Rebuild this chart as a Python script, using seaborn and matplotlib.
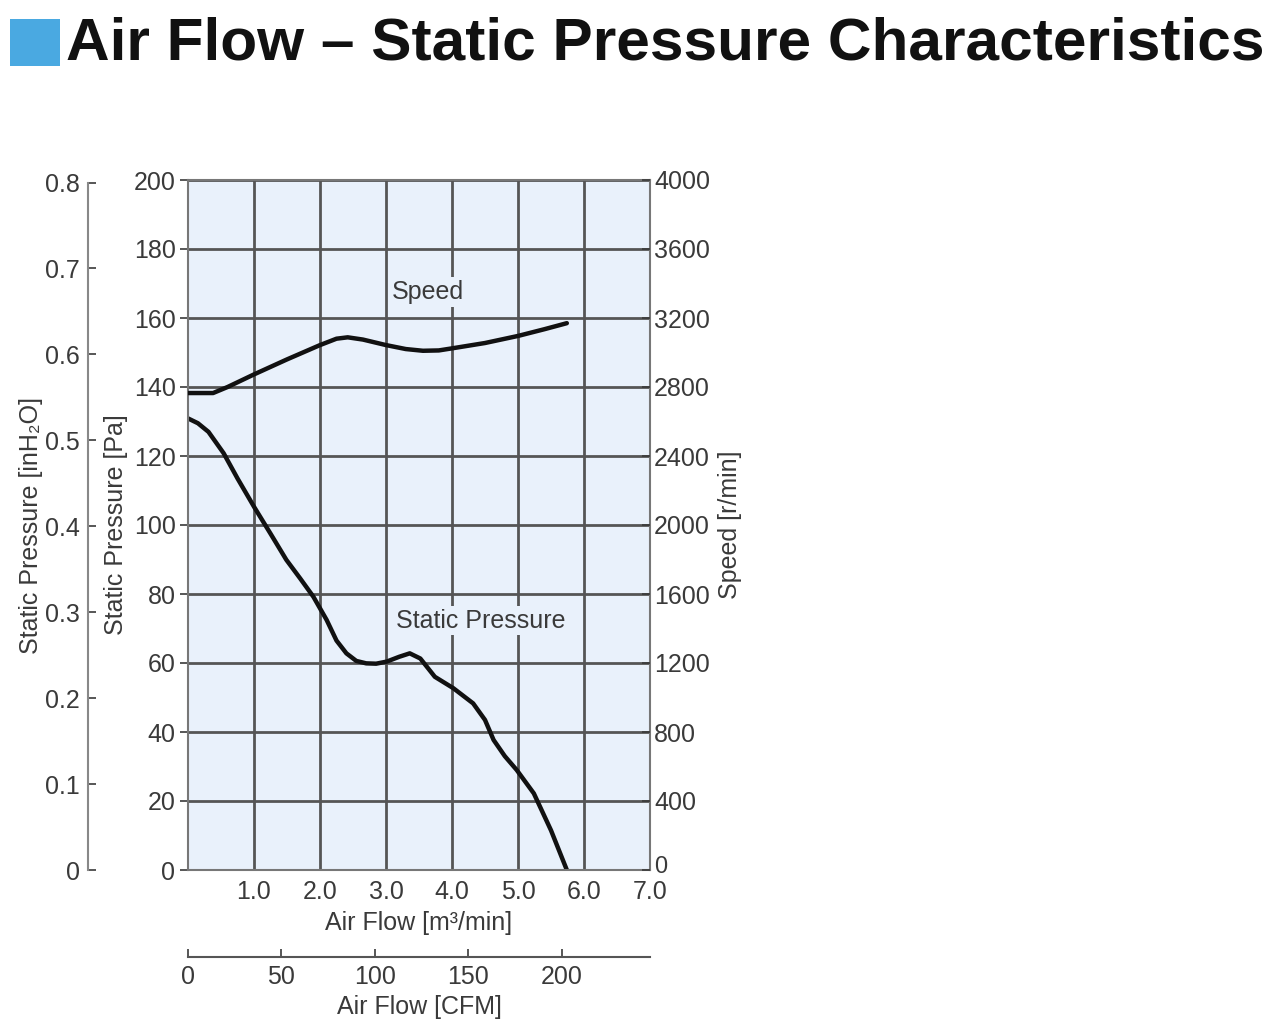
import matplotlib
matplotlib.use("Agg")
import matplotlib.pyplot as plt
import matplotlib.patches as mpatches
import matplotlib.transforms as mtransforms
import seaborn as sns
import pandas as pd
import numpy as np

# ---- data ----
sp_flow = [0.0, 0.15, 0.31, 0.54, 0.75, 1.0, 1.25, 1.49, 1.70, 1.90, 2.10, 2.25, 2.40, 2.55, 2.70, 2.85, 3.01, 3.20,
           3.36, 3.52, 3.74, 4.02, 4.32, 4.50, 4.63, 4.80, 4.98, 5.24, 5.50, 5.74]
sp_pa = [130.9, 129.5, 127.0, 120.8, 113.5, 105.3, 97.5, 89.9, 84.5, 79.2, 72.5, 66.5, 62.8, 60.6, 59.9, 59.8, 60.4, 61.8,
         62.8, 61.3, 56.0, 52.7, 48.3, 43.5, 37.7, 33.0, 29.0, 22.2, 11.5, 0.0]

spd_flow = [0.0, 0.38, 0.60, 1.0, 1.5, 2.0, 2.25, 2.42, 2.65, 3.0, 3.3, 3.56, 3.8, 4.0, 4.5, 5.0, 5.4, 5.74]
spd_rpm = [2765, 2765, 2800, 2873, 2960, 3043, 3080, 3088, 3075, 3043, 3020, 3010, 3012, 3024, 3055, 3096, 3135, 3170]

x_ticks = [1.0, 2.0, 3.0, 4.0, 5.0, 6.0, 7.0]
pa_ticks = list(range(0, 201, 20))
inh2o_ticks = [0, 0.1, 0.2, 0.3, 0.4, 0.5, 0.6, 0.7, 0.8]
inh2o_labels = ["0", "0.1", "0.2", "0.3", "0.4", "0.5", "0.6", "0.7", "0.8"]
rpm_ticks = list(range(0, 4001, 400))
cfm_ticks = [0, 50, 100, 150, 200]

PA_PER_INH2O = 249.089
CFM_PER_M3MIN = 35.3147

sns.set_theme(style="white")
FONT = ["Liberation Sans", "DejaVu Sans"]
plt.rcParams["font.family"] = FONT

TXT = "#3a3a3a"
GRID = "#555555"
BG = "#e9f1fb"
FS = 18

fig = plt.figure(figsize=(12.8, 10.36), dpi=100)
W, H = 1280, 1036
L, R, T, B = 188, 650, 180, 870
ax = fig.add_axes([L / W, 1 - B / H, (R - L) / W, (B - T) / H])
ax.set_facecolor(BG)

df_sp = pd.DataFrame({"flow": sp_flow, "pa": sp_pa})
sns.lineplot(data=df_sp, x="flow", y="pa", ax=ax, color="#111111", lw=3.2, sort=False, estimator=None)

ax.set_xlim(0, 7.0)
ax.set_ylim(0, 200)
ax.set_xticks(x_ticks)
ax.set_xticklabels([f"{v:.1f}" for v in x_ticks])
ax.set_yticks(pa_ticks)
ax.grid(True, color=GRID, lw=2.0)
ax.set_axisbelow(True)
for s in ax.spines.values():
    s.set_color("#777777")
    s.set_linewidth(1.5)
ax.tick_params(axis="both", labelsize=FS, colors=TXT, length=6, width=1.2, pad=3)
ax.tick_params(axis="x", length=0, pad=7)
ax.set_xlabel("Air Flow [m³/min]", fontsize=FS, color=TXT, labelpad=5)
ax.set_ylabel("Static Pressure [Pa]", fontsize=FS, color=TXT, labelpad=4)

# speed axis (right)
axs = ax.twinx()
df_spd = pd.DataFrame({"flow": spd_flow, "rpm": spd_rpm})
sns.lineplot(data=df_spd, x="flow", y="rpm", ax=axs, color="#111111", lw=3.2, sort=False, estimator=None)
axs.set_ylim(0, 4000)
axs.set_yticks(rpm_ticks)
axs.tick_params(axis="y", labelsize=FS, colors=TXT, direction="in", length=6, width=1.2, pad=3)
axs.set_ylabel("Speed [r/min]", fontsize=FS, color=TXT, labelpad=6)
axs.grid(False)
for s in axs.spines.values():
    s.set_visible(False)
# the reference lifts the "0" speed label slightly above the corner
lbl0 = axs.get_yticklabels()[0]
lbl0.set_transform(lbl0.get_transform() + mtransforms.ScaledTranslation(0, 4 / 72, fig.dpi_scale_trans))
lbl0.set_fontsize(FS - 1)

# inH2O axis (far left)
axi = ax.twinx()
axi.set_ylim(0, 200 / PA_PER_INH2O)
axi.yaxis.set_ticks_position("left")
axi.yaxis.set_label_position("left")
axi.spines["left"].set_position(("axes", (88 - L) / (R - L)))
axi.spines["left"].set_bounds(0, 0.8)
for k in ["right", "top", "bottom"]:
    axi.spines[k].set_visible(False)
axi.spines["left"].set_color("#888888")
axi.spines["left"].set_linewidth(1.5)
axi.set_yticks(inh2o_ticks)
axi.set_yticklabels(inh2o_labels)
axi.tick_params(axis="y", labelsize=FS, colors=TXT, direction="in", length=6, width=1.2, pad=6)
axi.set_ylabel("Static Pressure [inH₂O]", fontsize=FS, color=TXT, labelpad=1)
axi.grid(False)

# CFM axis (bottom)
axc = ax.twiny()
axc.set_xlim(0, 7.0 * CFM_PER_M3MIN)
axc.xaxis.set_ticks_position("bottom")
axc.xaxis.set_label_position("bottom")
axc.spines["bottom"].set_position(("axes", -(957 - B) / (B - T)))
for k in ["left", "right", "top"]:
    axc.spines[k].set_visible(False)
axc.spines["bottom"].set_color("#555555")
axc.spines["bottom"].set_linewidth(1.5)
axc.set_xticks(cfm_ticks)
axc.tick_params(axis="x", labelsize=FS, colors=TXT, direction="in", length=6, width=1.2, pad=6)
axc.set_xlabel("Air Flow [CFM]", fontsize=FS, color=TXT, labelpad=4)
axc.grid(False)

# curve labels
ax.text(3.64, 167.5, "Speed", fontsize=FS, color=TXT, ha="center", va="center",
        bbox=dict(facecolor=BG, edgecolor="none", pad=2))
ax.text(4.44, 72.3, "Static Pressure", fontsize=FS, color=TXT, ha="center", va="center",
        bbox=dict(facecolor=BG, edgecolor="none", pad=2))

# title with blue square
fig.patches.append(mpatches.Rectangle((10 / W, 1 - 66 / H), 50 / W, 47 / H, transform=fig.transFigure,
                                      facecolor="#4aa9e1", edgecolor="none"))
fig.text(66 / W, 1 - 44 / H, "Air Flow – Static Pressure Characteristics", fontsize=43.5, fontweight="bold",
         color="#111111", ha="left", va="center")

fig.savefig("out.png", dpi=100, facecolor="white")
